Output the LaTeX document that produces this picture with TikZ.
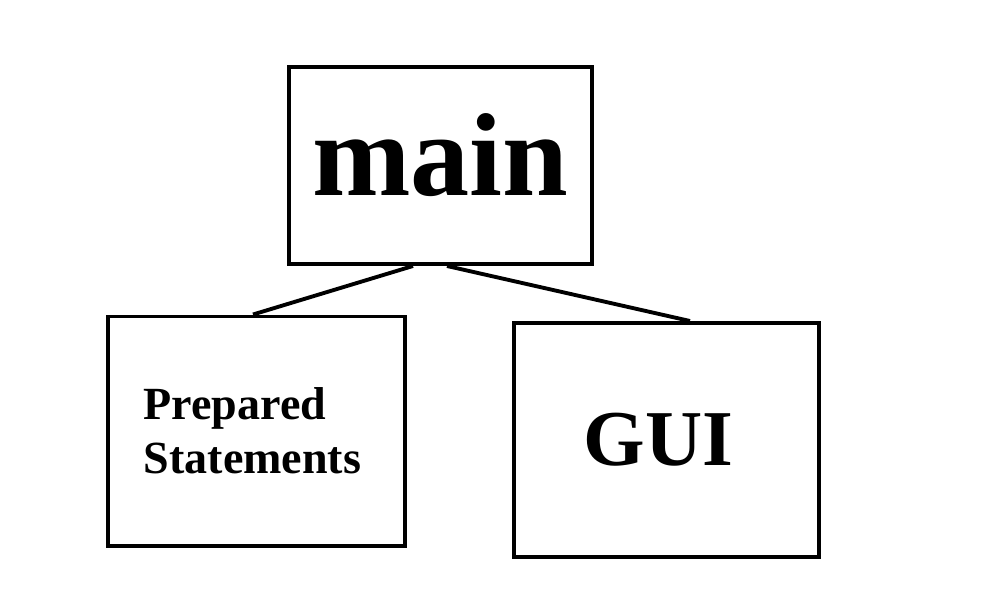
\documentclass[tikz,border=0pt]{standalone}
\usepackage{fontspec}
\setmainfont{Liberation Serif}
\usetikzlibrary{calc}
\tikzset{
    module/.style={shape=rectangle, draw=black, line width=1.1pt, inner sep=0pt, font=\bfseries},
    link/.style={line width=1.1pt}}

\begin{document}
\begin{tikzpicture}[x=0.01cm, y=-0.01cm]

            \useasboundingbox (0,0) rectangle (999,600);

            \node[module, minimum width=3.03cm, minimum height=1.97cm, text height=0.59cm, text depth=0pt, font=\bfseries\fontsize{33.6pt}{36pt}\selectfont] (main) at (440.5,165.5) {main};
            \node[module, minimum width=2.97cm, minimum height=2.29cm, align=left, font=\bfseries\fontsize{13.1pt}{15.4pt}\selectfont] (prep) at (256.5,431) {\kern-0.08cm Prepared\\\kern-0.08cm Statements};
            \node[module, minimum width=3.05cm, minimum height=2.34cm, font=\bfseries\fontsize{22.5pt}{26pt}\selectfont] (gui) at (666.5,440) {\kern-0.16cm GUI};

            \draw[link] ([xshift=-0.275cm]main.south) -- ([xshift=-0.035cm]prep.north);
            \draw[link] ([xshift=0.065cm]main.south) -- ([xshift=0.235cm]gui.north);

        \end{tikzpicture}
\end{document}
